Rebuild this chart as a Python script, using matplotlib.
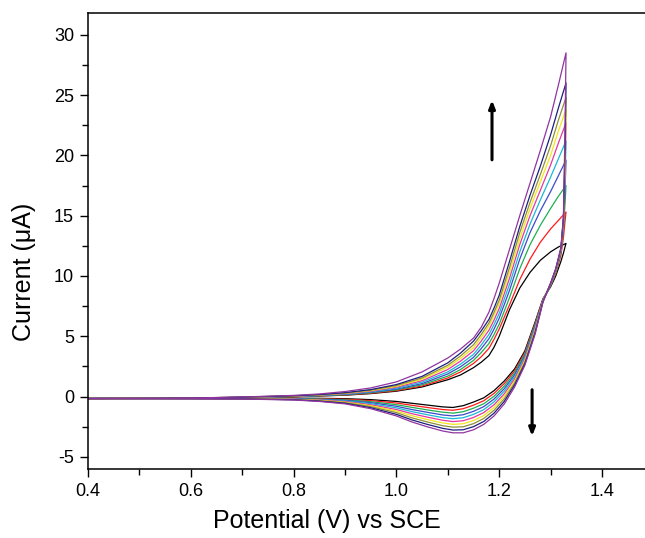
import matplotlib
matplotlib.use("Agg")
import matplotlib.pyplot as plt
from matplotlib.ticker import MultipleLocator

plt.rcParams['font.family'] = ['Liberation Sans', 'DejaVu Sans']
plt.rcParams['axes.unicode_minus'] = False

# Curve order: black, red, green, blue, cyan, magenta, yellow, olive, navy, purple
colors = ['#000000', '#FF1A1A', '#1FAF4F', '#3D4BC8', '#1BB8D8',
          '#E2389E', '#F2E41C', '#8E8E3A', '#1E1E7E', '#9035A0']

# Forward (anodic) scan potentials, V vs SCE
E_fwd = [0.40, 0.50, 0.60, 0.70, 0.80, 0.85, 0.90, 0.95, 1.00, 1.05, 1.10,
         1.125, 1.15, 1.165, 1.18, 1.19, 1.20, 1.21, 1.22, 1.24, 1.26, 1.28,
         1.30, 1.315, 1.33]

# Forward currents (uA); rows follow E_fwd, columns follow colors
I_fwd = [
    [-0.15, -0.15, -0.15, -0.15, -0.15, -0.15, -0.15, -0.15, -0.15, -0.15],
    [-0.14, -0.14, -0.14, -0.14, -0.14, -0.14, -0.14, -0.14, -0.14, -0.14],
    [-0.12, -0.12, -0.12, -0.12, -0.12, -0.12, -0.12, -0.12, -0.12, -0.12],
    [-0.08, -0.08, -0.07, -0.07, -0.06, -0.06, -0.05, -0.05, -0.04, -0.03],
    [0.00, 0.00, 0.01, 0.02, 0.03, 0.04, 0.05, 0.06, 0.07, 0.10],
    [0.05, 0.06, 0.07, 0.09, 0.10, 0.12, 0.14, 0.15, 0.17, 0.22],
    [0.12, 0.14, 0.16, 0.19, 0.22, 0.25, 0.28, 0.30, 0.33, 0.42],
    [0.25, 0.28, 0.32, 0.36, 0.40, 0.45, 0.50, 0.54, 0.58, 0.72],
    [0.45, 0.50, 0.56, 0.62, 0.70, 0.78, 0.85, 0.92, 1.00, 1.22],
    [0.80, 0.88, 0.98, 1.08, 1.20, 1.32, 1.45, 1.55, 1.68, 2.05],
    [1.40, 1.55, 1.70, 1.88, 2.05, 2.25, 2.45, 2.60, 2.80, 3.20],
    [1.80, 2.05, 2.25, 2.48, 2.70, 2.95, 3.18, 3.38, 3.62, 3.95],
    [2.40, 2.75, 3.00, 3.25, 3.50, 3.80, 4.05, 4.30, 4.60, 4.85],
    [2.85, 3.30, 3.65, 3.98, 4.28, 4.60, 4.90, 5.15, 5.45, 5.75],
    [3.40, 4.00, 4.40, 4.80, 5.15, 5.50, 5.85, 6.10, 6.40, 7.00],
    [4.10, 4.75, 5.15, 5.60, 5.98, 6.35, 6.75, 7.00, 7.35, 8.15],
    [5.00, 5.60, 6.00, 6.50, 6.90, 7.30, 7.70, 8.00, 8.40, 9.40],
    [6.10, 6.60, 7.10, 7.65, 8.10, 8.55, 9.00, 9.35, 9.80, 10.80],
    [7.20, 7.60, 8.20, 8.80, 9.30, 9.80, 10.30, 10.70, 11.20, 12.20],
    [9.00, 9.70, 10.60, 11.40, 12.00, 12.60, 13.10, 13.60, 14.10, 15.00],
    [10.30, 11.40, 12.60, 13.60, 14.30, 15.00, 15.60, 16.10, 16.70, 17.70],
    [11.30, 12.80, 14.20, 15.40, 16.30, 17.10, 17.80, 18.40, 19.10, 20.40],
    [12.00, 13.90, 15.60, 17.00, 18.20, 19.20, 20.00, 20.80, 21.70, 23.20],
    [12.40, 14.60, 16.60, 18.30, 19.70, 21.00, 22.00, 22.90, 23.90, 25.80],
    [12.70, 15.30, 17.50, 19.60, 21.20, 22.70, 23.80, 24.80, 26.00, 28.50],
]

# Reverse scan potentials
E_rev = [1.33, 1.328, 1.325, 1.32, 1.31, 1.30, 1.285, 1.27, 1.25, 1.23, 1.21,
         1.19, 1.17, 1.15, 1.13, 1.11, 1.09, 1.06, 1.03, 1.00, 0.95, 0.90,
         0.85, 0.80, 0.70, 0.60, 0.50, 0.40]

I_rev = [
    [12.70, 15.30, 17.50, 19.60, 21.20, 22.70, 23.80, 24.80, 26.00, 28.50],
    [12.40, 14.50, 16.00, 17.00, 17.80, 18.60, 19.20, 19.80, 20.60, 22.00],
    [11.90, 13.20, 13.80, 14.10, 14.30, 14.50, 14.60, 14.70, 14.80, 15.00],
    [11.20, 11.70, 11.90, 12.00, 12.10, 12.10, 12.20, 12.20, 12.30, 12.30],
    [10.00, 10.20, 10.30, 10.40, 10.40, 10.50, 10.50, 10.50, 10.60, 10.60],
    [9.10, 9.20, 9.20, 9.30, 9.30, 9.30, 9.40, 9.40, 9.40, 9.40],
    [8.10, 8.05, 8.00, 8.00, 7.95, 7.95, 7.90, 7.90, 7.85, 7.80],
    [6.20, 6.09, 5.98, 5.87, 5.76, 5.64, 5.53, 5.42, 5.31, 5.20],
    [3.80, 3.67, 3.53, 3.40, 3.27, 3.13, 3.00, 2.87, 2.73, 2.60],
    [2.30, 2.13, 1.97, 1.80, 1.63, 1.47, 1.30, 1.13, 0.97, 0.80],
    [1.30, 1.09, 0.88, 0.67, 0.46, 0.24, 0.03, -0.18, -0.39, -0.60],
    [0.50, 0.27, 0.03, -0.20, -0.43, -0.67, -0.90, -1.13, -1.37, -1.60],
    [-0.10, -0.34, -0.59, -0.83, -1.08, -1.32, -1.57, -1.81, -2.06, -2.30],
    [-0.45, -0.71, -0.96, -1.22, -1.47, -1.73, -1.98, -2.24, -2.49, -2.75],
    [-0.75, -1.00, -1.25, -1.50, -1.75, -2.00, -2.25, -2.50, -2.75, -3.00],
    [-0.90, -1.13, -1.37, -1.60, -1.83, -2.07, -2.30, -2.53, -2.77, -3.00],
    [-0.85, -1.07, -1.29, -1.52, -1.74, -1.96, -2.18, -2.41, -2.63, -2.85],
    [-0.70, -0.90, -1.10, -1.30, -1.50, -1.70, -1.90, -2.10, -2.30, -2.50],
    [-0.55, -0.72, -0.89, -1.07, -1.24, -1.41, -1.58, -1.76, -1.93, -2.10],
    [-0.40, -0.53, -0.67, -0.80, -0.93, -1.07, -1.20, -1.33, -1.47, -1.60],
    [-0.25, -0.33, -0.42, -0.50, -0.58, -0.67, -0.75, -0.83, -0.92, -1.00],
    [-0.17, -0.22, -0.27, -0.31, -0.36, -0.41, -0.46, -0.50, -0.55, -0.60],
    [-0.14, -0.17, -0.20, -0.23, -0.26, -0.28, -0.31, -0.34, -0.37, -0.40],
    [-0.13, -0.15, -0.16, -0.18, -0.20, -0.21, -0.23, -0.25, -0.26, -0.28],
    [-0.13, -0.14, -0.15, -0.15, -0.16, -0.17, -0.18, -0.18, -0.19, -0.20],
    [-0.14, -0.14, -0.15, -0.15, -0.16, -0.16, -0.17, -0.17, -0.18, -0.18],
    [-0.15, -0.15, -0.15, -0.16, -0.16, -0.16, -0.16, -0.17, -0.17, -0.17],
    [-0.16, -0.16, -0.16, -0.16, -0.16, -0.17, -0.17, -0.17, -0.17, -0.17],
]

x_ticks = [0.4, 0.6, 0.8, 1.0, 1.2, 1.4]
x_labels = ['0.4', '0.6', '0.8', '1.0', '1.2', '1.4']
y_ticks = [-5, 0, 5, 10, 15, 20, 25, 30]

fig = plt.figure(figsize=(6.45, 5.38), dpi=100)
ax = fig.add_axes([88/645, 69/538, 1 - 88/645, (469-13)/538])

for k, c in enumerate(colors):
    xs = E_fwd + E_rev
    ys = [row[k] for row in I_fwd] + [row[k] for row in I_rev]
    ax.plot(xs, ys, color=c, lw=0.9)

ax.annotate('', xy=(1.186, 24.8), xytext=(1.186, 19.4),
            arrowprops=dict(arrowstyle='-|>,head_length=0.45,head_width=0.18',
                            color='black', lw=2.2))
ax.annotate('', xy=(1.264, -3.5), xytext=(1.264, 0.8),
            arrowprops=dict(arrowstyle='-|>,head_length=0.45,head_width=0.18',
                            color='black', lw=2.2))

ax.set_xlim(0.4, 0.4 + (645-88)/514)
ax.set_ylim(-6, 31.8)
ax.set_xticks(x_ticks)
ax.set_xticklabels(x_labels)
ax.set_yticks(y_ticks)
ax.xaxis.set_minor_locator(MultipleLocator(0.1))
ax.yaxis.set_minor_locator(MultipleLocator(2.5))
ax.tick_params(which='major', direction='out', length=6, width=1.0,
               labelsize=13, pad=4)
ax.tick_params(which='minor', direction='out', length=4, width=1.0)
ax.tick_params(top=False, right=False)
ax.spines['right'].set_visible(False)
for s in ['left', 'bottom', 'top']:
    ax.spines[s].set_linewidth(1.1)

ax.set_xlabel('Potential (V) vs SCE', fontsize=18)
ax.set_ylabel('Current (\u03bcA)', fontsize=18)
ax.xaxis.set_label_coords((327-88)/557, -0.088)
ax.yaxis.set_label_coords(-0.093, (469-272)/456)

fig.savefig('out.png', dpi=100)
